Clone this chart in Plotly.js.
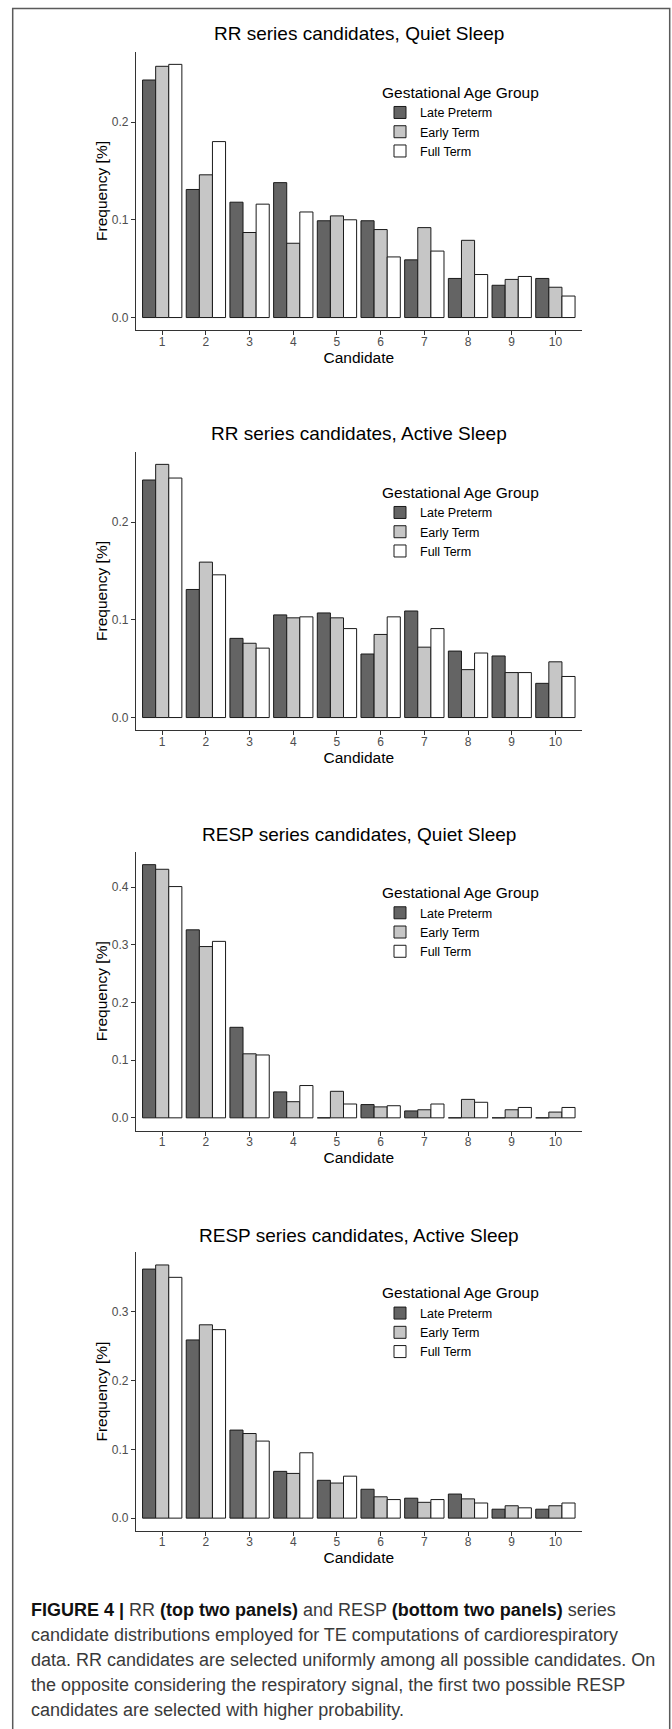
<!DOCTYPE html>
<html>
<head>
<meta charset="utf-8">
<script src="https://cdn.plot.ly/plotly-3.0.1.min.js"></script>
<style>
html,body{margin:0;padding:0;background:#fff}
#chart{width:672px;height:1729px}
</style>
</head>
<body>
<div id="chart"></div>
<script>
// ---------- data ----------
const candidates = [1, 2, 3, 4, 5, 6, 7, 8, 9, 10];
const groupNames = ['Late Preterm', 'Early Term', 'Full Term'];

const rrQuietLatePreterm = [0.243, 0.131, 0.118, 0.138, 0.099, 0.099, 0.059, 0.040, 0.033, 0.040];
const rrQuietEarlyTerm   = [0.257, 0.146, 0.087, 0.076, 0.104, 0.090, 0.092, 0.079, 0.039, 0.031];
const rrQuietFullTerm    = [0.259, 0.180, 0.116, 0.108, 0.100, 0.062, 0.068, 0.044, 0.042, 0.022];

const rrActiveLatePreterm = [0.243, 0.131, 0.081, 0.105, 0.107, 0.065, 0.109, 0.068, 0.063, 0.035];
const rrActiveEarlyTerm   = [0.259, 0.159, 0.076, 0.102, 0.102, 0.085, 0.072, 0.049, 0.046, 0.057];
const rrActiveFullTerm    = [0.245, 0.146, 0.071, 0.103, 0.091, 0.103, 0.091, 0.066, 0.046, 0.042];

const respQuietLatePreterm = [0.439, 0.326, 0.157, 0.045, 0, 0.023, 0.012, 0, 0, 0];
const respQuietEarlyTerm   = [0.431, 0.297, 0.111, 0.028, 0.046, 0.019, 0.014, 0.032, 0.014, 0.010];
const respQuietFullTerm    = [0.401, 0.306, 0.109, 0.056, 0.024, 0.021, 0.024, 0.027, 0.018, 0.018];

const respActiveLatePreterm = [0.362, 0.259, 0.128, 0.068, 0.055, 0.042, 0.029, 0.035, 0.013, 0.013];
const respActiveEarlyTerm   = [0.368, 0.281, 0.123, 0.065, 0.051, 0.031, 0.023, 0.028, 0.018, 0.018];
const respActiveFullTerm    = [0.350, 0.274, 0.112, 0.095, 0.061, 0.027, 0.027, 0.022, 0.015, 0.022];

const panelTitles = [
  'RR series candidates, Quiet Sleep',
  'RR series candidates, Active Sleep',
  'RESP series candidates, Quiet Sleep',
  'RESP series candidates, Active Sleep'
];
const xTitle = 'Candidate';
const yTitle = 'Frequency [%]';
const legendTitle = 'Gestational Age Group';

const captionLines = [
  '<span style="color:#111"><b>FIGURE 4 |</b></span> RR <span style="color:#111"><b>(top two panels)</b></span> and RESP <span style="color:#111"><b>(bottom two panels)</b></span> series',
  'candidate distributions employed for TE computations of cardiorespiratory',
  'data. RR candidates are selected uniformly among all possible candidates. On',
  'the opposite considering the respiratory signal, the first two possible RESP',
  'candidates are selected with higher probability.'
];

// ---------- layout ----------
const W = 672, H = 1729;
const FONT = 'Liberation Sans, Arial, Helvetica, sans-serif';
const fills = ['#646464', '#c6c6c6', '#ffffff'];
const seriesByPanel = [
  [rrQuietLatePreterm, rrQuietEarlyTerm, rrQuietFullTerm],
  [rrActiveLatePreterm, rrActiveEarlyTerm, rrActiveFullTerm],
  [respQuietLatePreterm, respQuietEarlyTerm, respQuietFullTerm],
  [respActiveLatePreterm, respActiveEarlyTerm, respActiveFullTerm]
];
const panelTop = [51.7, 451.7, 852, 1252.3];
const panelTitleY = [33.3, 433.3, 834, 1235];
const panelH = 278.5;
const plotLeft = 136, plotRight = 581.6;
const captionTop = 1610, captionStep = 25;

const traces = [];
const layout = {
  width: W, height: H,
  margin: {l: 0, r: 0, t: 0, b: 0},
  paper_bgcolor: '#fff', plot_bgcolor: '#fff',
  font: {family: FONT, color: '#000'},
  barmode: 'group', bargap: 0.1, bargroupgap: 0,
  showlegend: true,
  annotations: [],
  shapes: [{
    type: 'rect', xref: 'paper', yref: 'paper',
    x0: 12.7 / W, x1: 669.7 / W, y0: -0.01, y1: 1 - 8.5 / H,
    line: {color: '#5a5a5a', width: 1.5}, fillcolor: 'rgba(0,0,0,0)', layer: 'below'
  }]
};

seriesByPanel.forEach((series, i) => {
  const n = i === 0 ? '' : String(i + 1);
  const m = Math.max(...series.flat());
  layout['xaxis' + n] = {
    domain: [plotLeft / W, plotRight / W], range: [0.4, 10.6], anchor: 'y' + n,
    tickmode: 'array', tickvals: candidates, ticktext: candidates.map(String),
    ticks: 'outside', ticklen: 4, tickwidth: 1, tickcolor: '#333',
    ticklabelstandoff: -4,
    showline: true, linecolor: '#333', linewidth: 1.1,
    showgrid: false, zeroline: false,
    tickfont: {family: FONT, size: 12, color: '#4d4d4d'},
    title: {text: xTitle, font: {family: FONT, size: 15.5, color: '#000'}, standoff: 0},
    fixedrange: true
  };
  layout['yaxis' + n] = {
    domain: [1 - (panelTop[i] + panelH) / H, 1 - panelTop[i] / H],
    range: [-0.05 * m, 1.05 * m], anchor: 'x' + n,
    tickmode: 'linear', tick0: 0, dtick: 0.1, tickformat: '.1f',
    ticks: 'outside', ticklen: 4, tickwidth: 1, tickcolor: '#333',
    showline: true, linecolor: '#333', linewidth: 1.1,
    showgrid: false, zeroline: false,
    tickfont: {family: FONT, size: 12, color: '#4d4d4d'},
    title: {text: yTitle, font: {family: FONT, size: 15.5, color: '#000'}, standoff: 0},
    fixedrange: true
  };
  layout['legend' + n] = {
    x: 380 / W, xanchor: 'left',
    y: 1 - (panelTop[i] + 26) / H, yanchor: 'top',
    bgcolor: 'rgba(0,0,0,0)', borderwidth: 0,
    traceorder: 'normal',
    font: {family: FONT, size: 12.5, color: '#000'},
    title: {text: legendTitle, side: 'top', font: {family: FONT, size: 15.5, color: '#000'}}
  };
  layout.annotations.push({
    xref: 'paper', yref: 'paper',
    x: (plotLeft + plotRight) / 2 / W, y: 1 - panelTitleY[i] / H,
    xanchor: 'center', yanchor: 'middle', showarrow: false,
    text: panelTitles[i], font: {family: FONT, size: 19, color: '#000'}
  });
  series.forEach((vals, k) => {
    traces.push({
      type: 'bar', x: candidates, y: vals, name: groupNames[k],
      xaxis: 'x' + n, yaxis: 'y' + n, legend: 'legend' + n,
      marker: {color: fills[k], line: {color: '#1a1a1a', width: 1}},
      hoverinfo: 'skip'
    });
  });
});

captionLines.forEach((t, j) => {
  layout.annotations.push({
    xref: 'paper', yref: 'paper', x: 29 / W, y: 1 - (captionTop + j * captionStep) / H,
    xanchor: 'left', yanchor: 'middle', showarrow: false, align: 'left',
    text: t, font: {family: FONT, size: 18, color: '#3a3a3a'}
  });
});

Plotly.newPlot('chart', traces, layout, {staticPlot: true, displayModeBar: false});
</script>
</body>
</html>
